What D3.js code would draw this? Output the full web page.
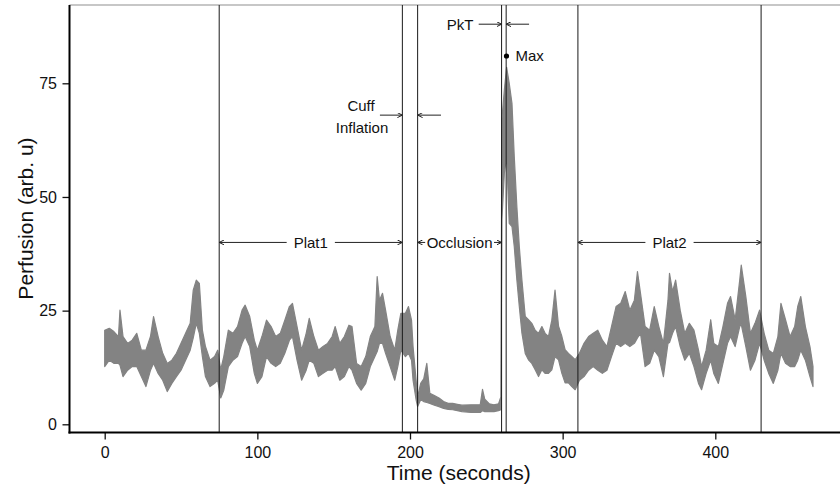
<!DOCTYPE html>
<html>
<head>
<meta charset="utf-8">
<script src="https://cdn.jsdelivr.net/npm/d3@7"></script>
<style>
  body { margin: 0; background: #fff; }
  text { font-family: "Liberation Sans", Arial, sans-serif; }
</style>
</head>
<body>
<svg id="chart" width="840" height="488"></svg>
<script>
const times = [0,3,6,9,10,12,15,18,21,24,27,30,32,35,38,41,44,47,50,53,56,58,60,62,64,66,69,72,74,76,
  78,81,84,87,90,92,95,98,100,103,106,109,112,115,118,121,123,126,129,132,134,137,140,143,146,149,151,154,157,
  160,162,165,168,171,174,177,178.5,180,182,184,187,190,192,194,197,199,201,202,204,205,207,209,211,213,216,219,222,225,228,231,234,
  240,246,247.5,249,252,255,258,259.5,260.2,261.8,263.3,265,266.8,268.3,270,271.6,273.3,275.5,277.6,279.8,282,284.2,286.4,288.5,290.7,292.9,295,297.3,299.5,301.6,303.8,306,308.2,
  311,314,317,320,323,326,329,332,335,338,341,344,347,349,351,354,357,360,363,366,369,370,372,374,377,380,383,386,389,
  391,394,397,399,402,405,408,410,413,416,417,420,423,426,429,432,435,438,441,443,446,449,452,454,456,459,462,464];

const hiVals = [20.7,21.1,20.4,19.3,25.1,19.3,17.8,18.5,20.0,16.3,16.3,19.3,23.7,19.3,15.6,13.4,14.1,15.6,17.8,20.0,22.2,29.5,31.7,31.0,20.7,17.1,14.1,14.9,16.3,12.0,
  14.9,20.7,20.0,21.5,25.1,26.2,23.7,18.5,16.3,19.3,22.9,21.5,19.3,20.0,22.9,25.9,26.6,21.5,16.3,20.0,23.3,19.3,16.3,17.1,17.8,19.3,21.5,17.8,19.3,
  21.8,21.5,13.4,12.7,14.9,19.3,21.5,32.5,27.3,28.8,25.1,19.3,16.3,20.7,24.4,24.4,25.9,22.9,17.1,9.7,6.0,9.0,10.0,13.4,6.8,6.3,5.8,5.0,4.6,4.6,4.4,4.2,
  4.3,4.3,7.7,5.5,4.5,4.3,4.5,6.0,67,73.5,78.5,75,70.6,58.9,47.9,39.1,31.8,23.7,23.0,22.2,20.7,20.0,21.5,20.0,19.3,22.9,29.5,21.6,19.3,16.4,15.6,14.9,14.2,
  15.6,17.8,19.3,20.0,20.7,18.5,17.1,21.5,25.9,26.6,29.2,25.1,27.3,33.6,28.8,21.5,20.7,25.9,21.5,17.8,27.3,33.2,29.2,31.7,25.1,20.0,22.2,20.7,16.3,
  12.7,16.3,23.0,17.8,17.1,21.5,26.6,28.1,23.0,31.7,35.0,28.1,20.0,22.2,25.1,20.0,16.3,15.6,19.3,26.6,23.0,19.3,21.5,25.9,28.1,21.5,17.1,12.7];

const loVals = [12.7,14.1,13.4,13.4,13.0,10.5,11.9,12.7,12.7,10.5,8.3,11.9,13.4,11.2,9.7,7.2,9.0,10.5,11.9,14.1,16.3,19.0,22.2,20.0,14.9,10.5,8.3,9.0,9.7,5.8,
  7.5,12.7,14.1,14.9,17.8,19.3,17.1,11.2,9.0,10.5,14.9,13.4,12.7,13.4,15.6,18.5,19.3,14.1,9.7,11.9,14.1,13.4,10.5,11.2,11.9,11.9,12.7,9.7,10.5,
  12.7,11.9,9.0,7.5,9.0,12.7,14.9,16.0,17.8,17.8,15.6,12.7,9.7,12.7,16.3,14.9,15.6,14.1,9.7,5.4,3.9,5.4,5.0,4.8,4.6,4.2,3.9,3.5,3.3,3.2,3.0,2.8,
  2.6,2.6,3.0,2.8,2.8,2.8,3.0,3.2,45,55.2,58.9,44.2,43.5,39.1,31.8,25.9,20.1,15.6,14.2,13.4,12.0,10.5,12.0,11.2,11.2,12.0,14.9,14.2,11.2,9.1,9.1,8.3,7.6,
  9.7,10.5,11.9,12.7,11.9,11.2,11.9,14.9,17.8,17.1,17.8,17.1,17.8,19.0,20.0,12.7,13.4,16.3,14.9,10.5,17.8,18.0,20.0,21.5,17.1,14.1,15.6,12.7,9.0,
  7.6,11.2,14.1,11.2,9.0,13.4,17.8,19.3,17.1,21.5,22.0,17.1,11.9,14.1,17.8,14.1,11.2,9.0,11.9,15.6,13.4,12.7,12.7,14.1,16.3,14.1,10.5,8.3];

const xTicks = [0, 100, 200, 300, 400];
const yTicks = [0, 25, 50, 75];

// phase boundaries (seconds)
const markers = [75, 195, 205, 260, 263, 310, 430];
const spanLabels = ["Plat1", "Occlusion", "Plat2"];
const spanFrom = [75, 205, 310];
const spanTo = [195, 260, 430];
const spanLevel = 40;

const maxT = 263.2, maxV = 81;

const svg = d3.select("#chart");
const axisX = 69.5, axisY = 432.5, topY = 5;

const x = d3.scaleLinear().domain([0, 400]).range([104.7, 715.3]);
const y = d3.scaleLinear().domain([0, 75]).range([424.3, 83.3]);

const defs = svg.append("defs");
defs.append("marker")
  .attr("id", "arr")
  .attr("viewBox", "0 0 10 10")
  .attr("refX", 10)
  .attr("refY", 5)
  .attr("markerWidth", 5)
  .attr("markerHeight", 5)
  .attr("markerUnits", "userSpaceOnUse")
  .attr("orient", "auto")
  .append("path")
  .attr("d", "M0,0 L10,5 L0,10")
  .attr("fill", "none")
  .attr("stroke", "#222")
  .attr("stroke-width", 2);

// top frame line
svg.append("line")
  .attr("x1", axisX).attr("x2", 840)
  .attr("y1", topY).attr("y2", topY)
  .attr("stroke", "#b5b5b5")
  .attr("stroke-width", 1.5);

// trace
const pts = times.map((t, i) => ({ t: t, hi: hiVals[i], lo: loVals[i] }));
const area = d3.area()
  .x((d) => x(d.t))
  .y0((d) => y(d.lo))
  .y1((d) => y(d.hi));

svg.append("path")
  .attr("d", area(pts))
  .attr("fill", "#838383")
  .attr("stroke", "#838383")
  .attr("stroke-width", 1.2)
  .attr("stroke-linejoin", "round");

// phase lines
markers.forEach((m) => {
  svg.append("line")
    .attr("x1", x(m)).attr("x2", x(m))
    .attr("y1", topY).attr("y2", axisY)
    .attr("stroke", "#1a1a1a")
    .attr("stroke-width", 1);
});

function arrow(x1, y1, x2, y2) {
  svg.append("line")
    .attr("x1", x1).attr("y1", y1)
    .attr("x2", x2).attr("y2", y2)
    .attr("stroke", "#222")
    .attr("stroke-width", 1)
    .attr("marker-end", "url(#arr)");
}

// spans
spanLabels.forEach((lab, i) => {
  const cx = x((spanFrom[i] + spanTo[i]) / 2);
  const yy = y(spanLevel);
  const t = svg.append("text")
    .attr("x", cx)
    .attr("y", yy)
    .attr("dy", "0.36em")
    .attr("text-anchor", "middle")
    .attr("font-size", "15px")
    .attr("fill", "#111")
    .text(lab);
  const w = t.node().getComputedTextLength();
  const gap = lab === "Occlusion" ? 1.5 : 7;
  arrow(cx - w / 2 - gap, yy, x(spanFrom[i]), yy);
  arrow(cx + w / 2 + gap, yy, x(spanTo[i]), yy);
});

// cuff inflation
const cuffY = y(68);
arrow(x(180.3), cuffY, x(195), cuffY);
arrow(x(220.3), cuffY, x(205), cuffY);
svg.append("text")
  .attr("x", 361).attr("y", cuffY - 4)
  .attr("text-anchor", "middle")
  .attr("font-size", "15px").attr("fill", "#111")
  .text("Cuff");
svg.append("text")
  .attr("x", 362).attr("y", cuffY + 18)
  .attr("text-anchor", "middle")
  .attr("font-size", "15px").attr("fill", "#111")
  .text("Inflation");

// peak time
const pkY = y(88);
arrow(x(245), pkY, x(260), pkY);
arrow(x(278), pkY, x(263), pkY);
svg.append("text")
  .attr("x", 460).attr("y", pkY)
  .attr("dy", "0.36em")
  .attr("text-anchor", "middle")
  .attr("font-size", "15px").attr("fill", "#111")
  .text("PkT");

// max point
svg.append("circle")
  .attr("cx", x(maxT)).attr("cy", y(maxV))
  .attr("r", 2.6)
  .attr("fill", "#000");
svg.append("text")
  .attr("x", x(maxT) + 9).attr("y", y(maxV))
  .attr("dy", "0.36em")
  .attr("font-size", "15px").attr("fill", "#111")
  .text("Max");

// axes
const gy = svg.append("g")
  .attr("transform", `translate(${axisX},0)`)
  .call(d3.axisLeft(y).tickValues(yTicks).tickSize(7).tickPadding(5.5));
const gx = svg.append("g")
  .attr("transform", `translate(0,${axisY})`)
  .call(d3.axisBottom(x).tickValues(xTicks).tickSize(7).tickPadding(7.5));

[gx, gy].forEach((g) => {
  g.select(".domain").remove();
  g.selectAll(".tick line").attr("stroke", "#111").attr("stroke-width", 1.3);
  g.selectAll(".tick text")
    .attr("font-size", "16px")
    .attr("font-family", "Liberation Sans, Arial, sans-serif")
    .attr("fill", "#111");
});

svg.append("line")
  .attr("x1", axisX).attr("x2", axisX)
  .attr("y1", topY).attr("y2", axisY + 1)
  .attr("stroke", "#000").attr("stroke-width", 2);
svg.append("line")
  .attr("x1", axisX - 1).attr("x2", 840)
  .attr("y1", axisY).attr("y2", axisY)
  .attr("stroke", "#000").attr("stroke-width", 2);

svg.append("text")
  .attr("x", 458.7).attr("y", 480)
  .attr("text-anchor", "middle")
  .attr("font-size", "21px").attr("fill", "#111")
  .text("Time (seconds)");

svg.append("text")
  .attr("transform", "translate(33,218.5) rotate(-90)")
  .attr("text-anchor", "middle")
  .attr("font-size", "21px").attr("fill", "#111")
  .text("Perfusion (arb. u)");
</script>
</body>
</html>
